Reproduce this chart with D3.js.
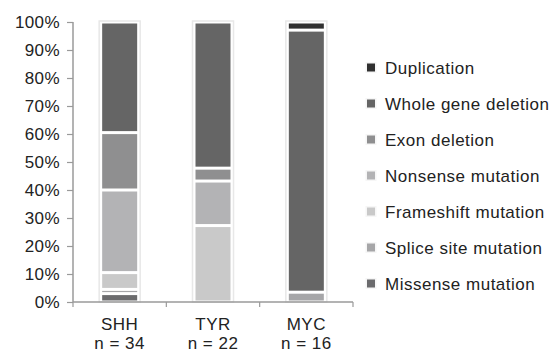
<!DOCTYPE html>
<html><head><meta charset="utf-8">
<script src="https://cdn.jsdelivr.net/npm/d3@7"></script>
<style>body{margin:0;background:#fff}svg{display:block}text{font-family:"Liberation Sans",Arial,sans-serif;fill:#222}</style>
</head><body><svg id="c" width="557" height="354"></svg>
<script>
const categories = ["SHH", "TYR", "MYC"];
const nLabels = ["n = 34", "n = 22", "n = 16"];
const types = ["Missense mutation", "Splice site mutation", "Frameshift mutation", "Nonsense mutation", "Exon deletion", "Whole gene deletion", "Duplication"];
const missense    = [3.0, 0, 0];
const spliceSite  = [1.5, 0, 3.5];
const frameshift  = [6.0, 27.3, 0];
const nonsense    = [29.5, 15.9, 0];
const exonDel     = [20.5, 4.6, 0];
const wholeGene   = [39.5, 52.2, 93.6];
const duplication = [0, 0, 2.9];
const colors = ["#6b6b6d", "#a6a6a8", "#c9c9c9", "#b3b3b5", "#8f8f90", "#656565", "#303030"];
const yTicks = [0,10,20,30,40,50,60,70,80,90,100];

const series = [missense, spliceSite, frameshift, nonsense, exonDel, wholeGene, duplication];
const rows = categories.map((c,i)=>{const r={cat:c}; types.forEach((t,j)=>r[t]=series[j][i]); return r;});
const stack = d3.stack().keys(types)(rows);

const svg = d3.select("#c");
const x = d3.scaleBand().domain(categories).range([73,353]).padding(0);
const y = d3.scaleLinear().domain([0,100]).range([302,22]);
const bw = 35;
const axisColor = "#9a9a9a";

// bar backgrounds (faint outline)
svg.append("g").selectAll("rect").data(categories).join("rect")
  .attr("x", d=>x(d)+x.bandwidth()/2-bw/2-3)
  .attr("width", bw+6)
  .attr("y", y(100)-1)
  .attr("height", y(0)-y(100)+1)
  .attr("fill","#fff").attr("stroke","#e8e8e8").attr("stroke-width",1.5);

// segments
const gs = svg.append("g");
stack.forEach((s,j)=>{
  gs.selectAll(null).data(s.filter(d=>d[1]-d[0]>0)).join("rect")
    .attr("x", d=>x(d.data.cat)+x.bandwidth()/2-bw/2)
    .attr("width", bw)
    .attr("y", d=>y(d[1])+1.5)
    .attr("height", d=>Math.max(0.8, y(d[0])-y(d[1])-3))
    .attr("fill", colors[j]);
});

// y axis
const ya = svg.append("g").attr("transform","translate(73,0)")
  .call(d3.axisLeft(y).tickValues(yTicks).tickFormat(d=>d+"%").tickSize(6).tickPadding(7));
ya.select(".domain").attr("stroke",axisColor).attr("stroke-width",1.5).attr("d","M0,22V302");
ya.selectAll(".tick line").attr("stroke",axisColor).attr("stroke-width",1.2);
ya.selectAll(".tick text").attr("font-size",17).attr("letter-spacing",0.4).attr("fill","#222").attr("font-family","Liberation Sans, Arial, sans-serif");

// x axis
svg.append("line").attr("x1",73).attr("x2",353).attr("y1",302).attr("y2",302).attr("stroke",axisColor).attr("stroke-width",1.5);
const bounds = categories.map(c=>x(c)).concat([x(categories[categories.length-1])+x.bandwidth()]);
svg.append("g").selectAll("line").data(bounds).join("line")
  .attr("x1",d=>d).attr("x2",d=>d).attr("y1",302).attr("y2",307).attr("stroke",axisColor).attr("stroke-width",1.2);
const xl = svg.append("g").selectAll("g").data(categories).join("g");
xl.append("text").attr("x",d=>x(d)+x.bandwidth()/2).attr("y",330).attr("text-anchor","middle").attr("font-size",17).attr("letter-spacing",0.5).text(d=>d);
xl.append("text").attr("x",d=>x(d)+x.bandwidth()/2).attr("y",349).attr("text-anchor","middle").attr("font-size",17).attr("letter-spacing",0.5).text((d,i)=>nLabels[i]);

// legend
const legendOrder = types.slice().reverse();
const lg = svg.append("g").selectAll("g").data(legendOrder).join("g")
  .attr("transform",(d,i)=>`translate(367,${67.5+i*36})`);
lg.append("rect").attr("x",-1.5).attr("y",-5.5).attr("width",11).attr("height",11).attr("fill","#f6f6f6");
lg.append("rect").attr("x",0).attr("y",-4).attr("width",8).attr("height",8).attr("fill",d=>colors[types.indexOf(d)]);
lg.append("text").attr("x",18).attr("y",6).attr("font-size",17).attr("letter-spacing",0.5).text(d=>d);
</script></body></html>
